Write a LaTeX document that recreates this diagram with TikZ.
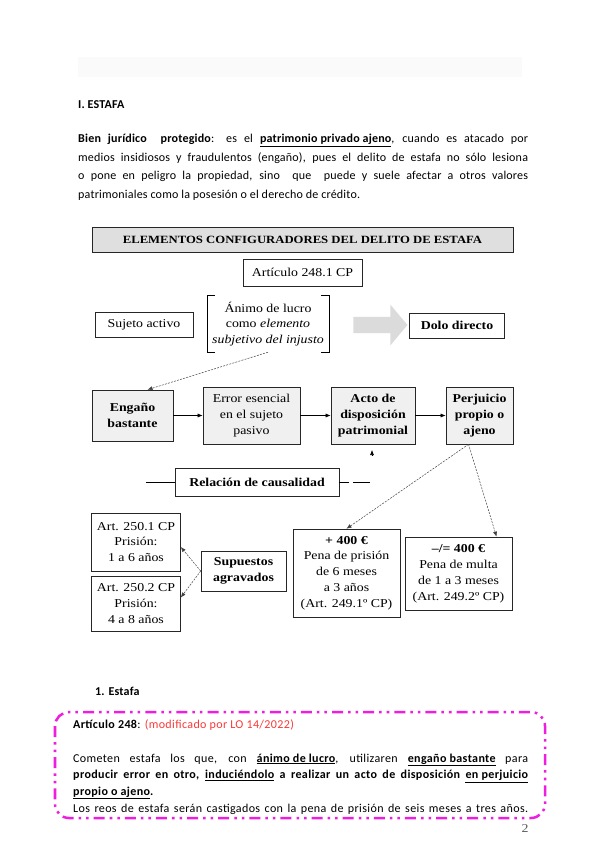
\documentclass[tikz,border=0pt]{standalone}
\usepackage{fontspec}
\setmainfont{Liberation Serif}[FakeStretch=1.15]
\newfontfamily\bodyfont{Carlito}[LetterSpace=1.5]
\newfontfamily\artfont{Carlito}[LetterSpace=3]
\usetikzlibrary{arrows.meta,shapes.arrows}

\definecolor{marco}{RGB}{238,30,222}
\definecolor{nota}{RGB}{250,55,55}
\newcommand{\pxu}{0.035cm}
\newcommand{\bline}[1]{\makebox[15.75cm][s]{#1}}
\newcommand{\aline}[1]{\makebox[15.925cm][s]{#1}}

\begin{document}
\begin{tikzpicture}[x=0.035cm, y=-0.035cm, font=\fontsize{12}{15.8}\selectfont,
  wh/.style 2 args={minimum width=#1*\pxu, minimum height=#2*\pxu},
  caja/.style={draw=black!85, line width=0.6pt, fill=gray!12, align=center, inner sep=1pt},
  blanca/.style={draw=black!85, line width=0.6pt, fill=white, align=center, inner sep=1pt},
  negrita/.style={font=\fontsize{12}{15.8}\selectfont\bfseries},
  flecha/.style={line width=0.6pt, -{Latex[length=5pt,width=4pt]}},
  punteada/.style={black!75, line width=0.5pt, dash pattern=on 2pt off 1.2pt, -{Latex[length=5pt,width=4pt]}},
  texto/.style={anchor=base west, inner sep=0pt, font=\bodyfont\fontsize{12}{14}\selectfont},
  articulo/.style={anchor=base west, inner sep=0pt, font=\artfont\fontsize{12}{14}\selectfont}]
\useasboundingbox (0,0) rectangle (600,848);
% header strip
\fill[gray!4] (78,57) rectangle (522,77);
% introduction
\node[texto] (seccion) at (78,109) {\textbf{I. ESTAFA}};
\node[texto] (bien1) at (78,143) {\bline{\textbf{Bien jurídico\ \ protegido}: es el \textbf{\underline{patrimonio privado ajeno}}, cuando es atacado por}};
\node[texto] (bien2) at (78,162) {\bline{medios insidiosos y fraudulentos (engaño), pues el delito de estafa no sólo lesiona}};
\node[texto] (bien3) at (78,180) {\bline{o pone en peligro la propiedad, sino\ \ que\ \ puede y suele afectar a otros valores}};
\node[texto] (bien4) at (78,198) {patrimoniales como la posesión o el derecho de crédito.};

% diagram title
\node[caja, fill=gray!25, line width=0.8pt, wh={421}{25}, font=\fontsize{11}{13}\selectfont\bfseries] (titulo) at (302.5,240) {ELEMENTOS CONFIGURADORES DEL DELITO DE ESTAFA};
\node[blanca, wh={119}{27}] (articulo) at (302.5,272.5) {Artículo 248.1 CP};

% upper row
\node[blanca, wh={98}{25}] (sujeto) at (144,325) {Sujeto activo};
\node[align=center, wh={122}{56}, inner sep=0pt] (animo) at (268,324) {Ánimo de lucro\\como \textit{elemento}\\\textit{subjetivo del injusto}};
\draw[semithick] ([xshift=8*\pxu]animo.north west) -- (animo.north west) -- (animo.south west) -- ([xshift=8*\pxu]animo.south west);
\draw[semithick] ([xshift=-8*\pxu]animo.north east) -- (animo.north east) -- (animo.south east) -- ([xshift=-8*\pxu]animo.south east);
\node[single arrow, fill=gray!28, inner xsep=0pt, inner ysep=0pt, text height=16*\pxu, text depth=0pt,
  single arrow head extend=12*\pxu, single arrow tip angle=100, minimum height=54*\pxu] (gris) at (377,325) {};
\node[blanca, negrita, wh={95}{25}] (dolo) at (457,325.5) {Dolo directo};

% elements of the offence
\node[caja, negrita, wh={81}{51}] (engano) at (132.5,415.5) {Engaño\\bastante};
\node[caja, wh={97}{57}] (error) at (251.5,415.5) {Error esencial\\en el sujeto\\pasivo};
\node[caja, negrita, wh={84}{57}] (acto) at (373,415.5) {Acto de\\disposición\\patrimonial};
\node[caja, negrita, wh={67}{57}] (perjuicio) at (479.5,415.5) {Perjuicio\\propio o\\ajeno};
\foreach \a/\b in {engano/error, error/acto, acto/perjuicio}
  \draw[flecha] (\a) -- (\b);
\draw[punteada] (animo.south) -- ([xshift=15*\pxu]engano.north);
\coordinate (causa) at (372,455);
\draw[flecha] (causa) -- ++(0,-5);

% causality
\node[blanca, negrita, wh={164}{28}] (relacion) at (257,482) {Relación de causalidad};
\coordinate (relL) at (146,482);
\coordinate (relR) at (349,482);
\coordinate (relS) at (353,482);
\coordinate (relT) at (370,482);
\draw[line width=0.6pt] (relL) -- (relacion.west);
\draw[line width=0.6pt] (relacion.east) -- (relR);
\draw[line width=0.6pt] (relS) -- (relT);

% penalties
\node[blanca, wh={107}{88}] (mas) at (346.5,573) {\textbf{+ 400 €}\\Pena de prisión\\de 6 meses\\a 3 años\\(Art. 249.1º CP)};
\node[blanca, wh={107}{73}] (menos) at (458.5,573.5) {\textbf{--/= 400 €}\\Pena de multa\\de 1 a 3 meses\\(Art. 249.2º CP)};
\draw[punteada] ([xshift=-11*\pxu]perjuicio.south) -- (mas.north);
\draw[punteada] ([xshift=-11*\pxu]perjuicio.south) -- ([xshift=38*\pxu]menos.north);

% aggravated cases
\node[blanca, negrita, wh={85}{40}] (supuestos) at (243.5,571) {Supuestos\\agravados};
\node[blanca, wh={89}{58}] (art1) at (136,542) {Art. 250.1 CP\\Prisión:\\1 a 6 años};
\node[blanca, wh={89}{55}] (art2) at (136,603.5) {Art. 250.2 CP\\Prisión:\\4 a 8 años};
\draw[punteada] (supuestos.west) -- ([yshift=-5*\pxu]art1.east);
\draw[punteada] (supuestos.west) -- ([yshift=6*\pxu]art2.east);

% article 248
\node[texto] (estafa) at (95,695) {\textbf{1. Estafa}};
\draw[marco, line width=2.5pt, rounded corners=14pt,
  dash pattern=on 11pt off 5pt on 2.5pt off 5pt on 2.5pt off 5pt] (55,712) rectangle (545,818);
\node[articulo] (art248) at (73,728) {\textbf{Artículo 248}: {\color{nota}(modificado por LO 14/2022)}};
\node[articulo] (linea1) at (73,762) {\aline{Cometen estafa los que, con \textbf{\underline{ánimo de lucro}}, utilizaren \textbf{\underline{engaño bastante}} para}};
\node[articulo] (linea2) at (73,778.5) {\aline{\textbf{producir error en otro, \underline{induciéndolo} a realizar un acto de disposición \underline{en perjuicio}}}};
\node[articulo] (linea3) at (73,795) {\textbf{\underline{propio o ajeno}.}};
\node[articulo] (linea4) at (73,812) {\aline{Los reos de estafa serán castigados con la pena de prisión de seis meses a tres años.}};
\node[text=gray!70!black] (pagina) at (525,829) {2};
\end{tikzpicture}
\end{document}
